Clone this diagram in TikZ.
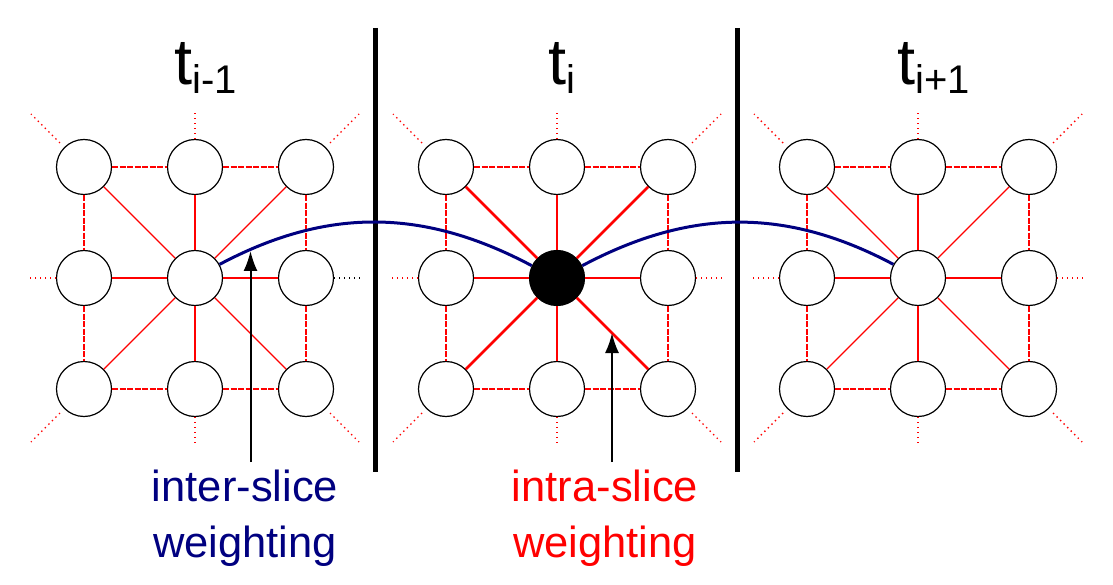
\documentclass[tikz,border=0pt]{standalone}
\usepackage{fontspec}
\setmainfont{Liberation Sans}
\usetikzlibrary{arrows.meta}
\definecolor{navyb}{RGB}{0,0,128}
\definecolor{redc}{RGB}{255,0,0}
\tikzset{
  gnode/.style={circle,draw=black,line width=1.2pt,minimum size=55pt,inner sep=0pt,fill=white},
  ringedge/.style={draw=redc,line width=1.2pt,dash pattern=on 6pt off 1.5pt},
  thinspoke/.style={draw=redc,line width=1.1pt},
  thickspoke/.style={draw=redc,line width=2.8pt},
  stub/.style={line width=1.4pt,dash pattern=on 1.4pt off 3.6pt},
  interline/.style={draw=navyb,line width=3pt},
  bar/.style={draw=black,line width=5pt},
  pointer/.style={draw=black,line width=2pt,-{Latex[length=20pt,width=14pt]}},
  lbl/.style={font=\fontsize{43.5}{56}\selectfont,align=center,inner sep=0pt},
  ttl/.style={anchor=base west,inner sep=0pt},
}
\newcommand\ttlbody[1]{{\fontsize{65}{66}\selectfont t}\raisebox{-9pt}{\fontsize{40}{42}\selectfont #1}}
% #1 prefix, #2 centre x, #3 spoke style, #4 centre fill, #5 colour of right stub
\newcommand\slicegrid[5]{%
  \foreach \r/\c/\dx/\yy in {1/1/-111/-167,1/2/0/-167,1/3/111/-167,
                             2/1/-111/-278,2/3/111/-278,
                             3/1/-111/-389,3/2/0/-389,3/3/111/-389}
    \node[gnode] (#1\r\c) at (#2+\dx,\yy) {};
  \node[gnode,fill=#4] (#122) at (#2,-278) {};
  % ring edges
  \draw[ringedge] (#111) -- (#112);
  \draw[ringedge] (#112) -- (#113);
  \draw[ringedge] (#131) -- (#132);
  \draw[ringedge] (#132) -- (#133);
  \draw[ringedge] (#111) -- (#121);
  \draw[ringedge] (#121) -- (#131);
  \draw[ringedge] (#113) -- (#123);
  \draw[ringedge] (#123) -- (#133);
  % spokes
  \foreach \n in {11,12,13,21,23,31,32,33}
    \draw[#3] (#122) -- (#1\n);
  % stubs
  \draw[stub,redc] ([shift={(-24,24)}]#111.center) -- ([shift={(-53,53)}]#111.center);
  \draw[stub,redc] ([shift={(0,28)}]#112.center) -- ([shift={(0,55)}]#112.center);
  \draw[stub,redc] ([shift={(24,24)}]#113.center) -- ([shift={(53,53)}]#113.center);
  \draw[stub,redc] ([shift={(-28,0)}]#121.center) -- ([shift={(-55,0)}]#121.center);
  \draw[stub,#5] ([shift={(28,0)}]#123.center) -- ([shift={(55,0)}]#123.center);
  \draw[stub,redc] ([shift={(-24,-24)}]#131.center) -- ([shift={(-53,-53)}]#131.center);
  \draw[stub,redc] ([shift={(0,-28)}]#132.center) -- ([shift={(0,-55)}]#132.center);
  \draw[stub,redc] ([shift={(24,-24)}]#133.center) -- ([shift={(53,-53)}]#133.center);
}
\begin{document}
\begin{tikzpicture}[x=1pt,y=1pt]
  \useasboundingbox[fill=white] (0,0) rectangle (1113,-585);
  % slice separators
  \coordinate (b1t) at (375.7,-28);
  \coordinate (b1b) at (375.7,-472);
  \coordinate (b2t) at (737.3,-28);
  \coordinate (b2b) at (737.3,-472);
  \draw[bar] (b1t) -- (b1b);
  \draw[bar] (b2t) -- (b2b);
  % grids
  \slicegrid{L}{195}{thinspoke}{white}{black}
  \slicegrid{M}{557}{thickspoke}{black}{redc}
  \slicegrid{R}{918}{thinspoke}{white}{redc}
  % inter-slice curves
  \draw[interline] (L22.29) to[out=28,in=152] (M22.154);
  \draw[interline] (M22.26) to[out=28,in=152] (R22.151);
  % titles
  \node[ttl] (t1) at (174,-85) {\ttlbody{i-1}};
  \node[ttl] (t2) at (548,-85) {\ttlbody{i}};
  \node[ttl] (t3) at (897,-85) {\ttlbody{i+1}};
  % pointers
  \coordinate (ia0) at (250.5,-462);
  \coordinate (ia1) at (250.5,-251);
  \coordinate (ra0) at (612,-462);
  \coordinate (ra1) at (612,-333);
  \draw[pointer] (ia0) -- (ia1);
  \draw[pointer] (ra0) -- (ra1);
  % labels
  \node[lbl,text=navyb,anchor=base] (interlbl) at (245,-557) {inter-slice\\weighting};
  \node[lbl,text=redc,anchor=base] (intralbl) at (605,-557) {intra-slice\\weighting};
\end{tikzpicture}
\end{document}
